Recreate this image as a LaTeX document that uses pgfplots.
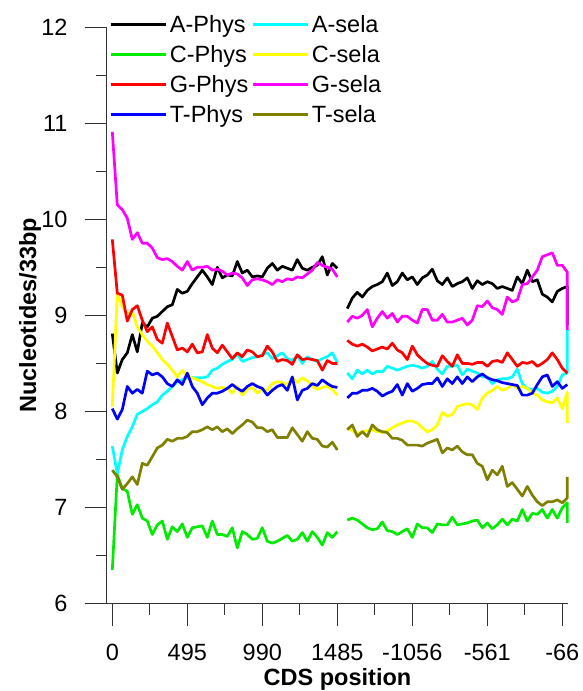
\documentclass[border=0pt]{standalone}
\usepackage{fontspec}
\setmainfont{Liberation Sans}
\usepackage{pgfplots}
\usepackage{pgfplotstable}
\pgfplotsset{compat=1.18}
\definecolor{cgreen}{RGB}{0,235,0}
\definecolor{ccyan}{RGB}{0,255,255}
\definecolor{cyell}{RGB}{255,255,0}
\definecolor{colive}{RGB}{128,128,0}
\definecolor{cmag}{RGB}{255,0,255}
\definecolor{cred}{RGB}{255,0,0}
\definecolor{cblue}{RGB}{0,0,255}

\pgfplotstableread{
i A C G T
0 8.81 6.35 9.79 8.03
1 8.40 7.34 9.23 7.92
2 8.54 7.20 9.21 8.02
3 8.61 7.17 8.94 8.26
4 8.80 6.93 9.06 8.19
5 8.62 7.03 9.10 8.23
6 8.92 6.89 8.95 8.19
7 8.88 6.86 8.83 8.42
8 8.97 6.72 8.88 8.38
9 8.99 6.82 8.75 8.40
10 9.04 6.86 8.71 8.36
11 9.09 6.67 8.92 8.29
12 9.11 6.80 8.78 8.26
13 9.27 6.75 8.64 8.33
14 9.23 6.83 8.66 8.28
15 9.25 6.69 8.62 8.40
16 9.33 6.79 8.70 8.26
17 9.40 6.80 8.61 8.19
18 9.47 6.81 8.62 8.07
19 9.40 6.69 8.80 8.14
20 9.32 6.86 8.66 8.19
21 9.50 6.72 8.61 8.19
22 9.39 6.72 8.69 8.21
23 9.42 6.70 8.62 8.24
24 9.41 6.79 8.55 8.28
25 9.56 6.58 8.61 8.24
26 9.44 6.75 8.57 8.21
27 9.47 6.72 8.64 8.26
28 9.40 6.67 8.62 8.29
29 9.41 6.68 8.57 8.26
30 9.40 6.79 8.58 8.24
31 9.49 6.65 8.68 8.17
32 9.54 6.63 8.62 8.22
33 9.47 6.65 8.52 8.26
34 9.51 6.68 8.54 8.28
35 9.49 6.71 8.53 8.22
36 9.47 6.65 8.49 8.36
37 9.58 6.67 8.59 8.12
38 9.49 6.74 8.54 8.22
39 9.47 6.65 8.55 8.24
40 9.50 6.75 8.54 8.29
41 9.52 6.69 8.53 8.27
42 9.61 6.61 8.43 8.33
43 9.42 6.74 8.53 8.29
44 9.54 6.69 8.50 8.26
45 9.49 6.75 8.50 8.25
46 nan nan nan nan
47 9.07 6.87 8.74 8.14
48 9.18 6.89 8.70 8.19
49 9.24 6.87 8.68 8.19
50 9.19 6.83 8.70 8.22
51 9.26 6.79 8.67 8.22
52 9.30 6.77 8.63 8.24
53 9.32 6.78 8.65 8.21
54 9.35 6.85 8.67 8.16
55 9.44 6.76 8.65 8.19
56 9.31 6.75 8.71 8.21
57 9.35 6.72 8.64 8.28
58 9.44 6.75 8.61 8.17
59 9.37 6.78 8.54 8.29
60 9.40 6.69 8.68 8.21
61 9.32 6.83 8.59 8.24
62 9.39 6.79 8.54 8.28
63 9.42 6.79 8.50 8.29
64 9.48 6.74 8.48 8.29
65 9.36 6.83 8.47 8.35
66 9.32 6.82 8.58 8.26
67 9.39 6.82 8.52 8.34
68 9.30 6.90 8.47 8.29
69 9.33 6.82 8.59 8.36
70 9.35 6.83 8.50 8.29
71 9.39 6.84 8.50 8.36
72 9.28 6.86 8.49 8.31
73 9.36 6.87 8.51 8.36
74 9.32 6.79 8.51 8.39
75 9.35 6.84 8.47 8.35
76 9.33 6.78 8.52 8.33
77 9.28 6.82 8.53 8.32
78 9.30 6.88 8.51 8.30
79 9.28 6.82 8.61 8.29
80 9.26 6.88 8.54 8.28
81 9.40 6.86 8.47 8.27
82 9.33 6.98 8.51 8.17
83 9.47 6.86 8.50 8.17
84 9.35 6.94 8.52 8.19
85 9.37 6.93 8.47 8.28
86 9.22 6.98 8.50 8.36
87 9.19 6.89 8.54 8.38
88 9.14 6.98 8.61 8.26
89 9.25 6.89 8.54 8.31
90 9.28 7.00 8.45 8.24
91 9.30 7.05 8.40 8.28
91 8.90 6.84 8.40 8.28
}\phys

\pgfplotstableread{
i A C G T
0 7.64 8.05 10.91 7.39
1 7.35 9.23 10.15 7.32
2 7.60 9.09 10.10 7.19
3 7.74 9.02 10.01 7.25
4 7.84 9.04 9.79 7.32
5 7.97 8.88 9.86 7.24
6 8.00 8.80 9.75 7.46
7 8.03 8.73 9.75 7.44
8 8.07 8.68 9.70 7.53
9 8.10 8.61 9.60 7.62
10 8.17 8.54 9.58 7.65
11 8.21 8.49 9.59 7.71
12 8.26 8.43 9.56 7.69
13 8.31 8.36 9.51 7.72
14 8.33 8.43 9.47 7.72
15 8.35 8.36 9.56 7.74
16 8.35 8.35 9.47 7.79
17 8.35 8.33 9.50 7.79
18 8.35 8.31 9.50 7.81
19 8.36 8.28 9.51 7.84
20 8.43 8.26 9.47 7.81
21 8.45 8.24 9.48 7.84
22 8.49 8.25 9.46 7.79
23 8.52 8.24 9.42 7.82
24 8.54 8.19 9.44 7.77
25 8.60 8.26 9.43 7.82
26 8.52 8.17 9.39 7.86
27 8.54 8.23 9.31 7.91
28 8.56 8.25 9.37 7.89
29 8.57 8.19 9.38 7.83
30 8.59 8.23 9.37 7.83
31 8.61 8.22 9.35 7.79
32 8.55 8.29 9.32 7.81
33 8.58 8.31 9.37 7.73
34 8.61 8.30 9.35 7.73
35 8.55 8.28 9.38 7.73
36 8.53 8.35 9.37 7.83
37 8.58 8.30 9.40 7.76
38 8.50 8.35 9.39 7.69
39 8.57 8.32 9.43 7.79
40 8.54 8.26 9.47 7.72
41 8.52 8.23 9.55 7.71
42 8.55 8.25 9.52 7.64
43 8.57 8.26 9.50 7.63
44 8.61 8.23 9.48 7.68
45 8.51 8.17 9.40 7.60
46 nan nan nan nan
47 8.40 7.83 8.93 7.81
48 8.34 7.80 8.99 7.86
49 8.43 7.77 8.97 7.74
50 8.39 7.79 9.00 7.79
51 8.43 7.80 9.06 7.74
52 8.39 7.81 8.88 7.86
53 8.42 7.79 8.97 7.81
54 8.41 7.78 9.04 7.79
55 8.47 7.80 8.97 7.78
56 8.45 7.83 9.02 7.72
57 8.43 7.86 8.93 7.72
58 8.45 7.88 8.99 7.70
59 8.47 7.90 8.99 7.65
60 8.48 7.90 8.95 7.65
61 8.47 7.88 8.92 7.65
62 8.45 7.83 9.06 7.64
63 8.47 7.79 9.06 7.67
64 8.52 7.81 8.95 7.69
65 8.44 7.86 8.95 7.71
66 8.39 7.99 9.01 7.57
67 8.47 7.95 8.93 7.62
68 8.47 7.97 8.93 7.60
69 8.48 8.05 8.95 7.64
70 8.38 8.07 8.97 7.58
71 8.44 8.08 8.90 7.55
72 8.42 8.07 8.95 7.55
73 8.40 8.02 9.10 7.46
74 8.36 8.14 9.09 7.43
75 8.36 8.19 9.15 7.29
76 8.29 8.22 9.08 7.39
77 8.33 8.26 9.06 7.34
78 8.34 8.22 9.01 7.43
79 8.34 8.24 9.19 7.22
80 8.36 8.28 9.14 7.26
81 8.44 8.24 9.16 7.19
82 8.29 8.26 9.32 7.12
83 8.24 8.24 9.33 7.22
84 8.23 8.19 9.40 7.13
85 8.24 8.17 9.47 7.06
86 8.20 8.12 9.61 7.02
87 8.19 8.10 9.63 7.06
88 8.21 8.09 9.65 7.06
89 8.26 8.14 9.52 7.08
90 8.38 8.03 9.52 7.05
91 8.40 8.20 9.45 7.10
91 8.85 7.88 8.85 7.32
}\sela

\begin{document}
\begin{tikzpicture}
\useasboundingbox (-106.7pt,-87.3pt) rectangle (475.3pt,603.7pt);
\begin{axis}[
  scale only axis,
  width=461.6pt, height=576.7pt,
  xmin=-1.12, xmax=91.2,
  ymin=6, ymax=12,
  axis lines=left,
  axis line style={-, line width=0.9pt, black!80},
  tick style={line width=0.9pt, black!80},
  tick align=outside,
  major tick length=22pt,
  minor tick length=11pt,
  xtick={0,15,30,45,60,75,90},
  xticklabels={0,495,990,1485,-1056,-561,-66},
  minor xtick={7.5,22.5,37.5,52.5,67.5,82.5},
  ytick={6,7,8,9,10,11,12},
  minor ytick={6.5,7.5,8.5,9.5,10.5,11.5},
  /pgf/number format/assume math mode=true,
  tick label style={font=\fontsize{23.5}{28}\selectfont},
  xticklabel style={anchor=north, inner sep=0pt, yshift=-18pt},
  yticklabel style={anchor=east, inner sep=0pt, xshift=-17pt},
  xlabel={CDS position},
  ylabel={Nucleotides/33bp},
  every axis x label/.style={at={(axis description cs:0.5,-0.131)}, anchor=center,
    font=\fontsize{23.5}{28}\selectfont\bfseries},
  every axis y label/.style={at={(axis description cs:-0.166,0.5)}, anchor=center, rotate=90,
    font=\fontsize{23.5}{28}\selectfont\bfseries},
  unbounded coords=jump,
  clip=false,
  every axis plot/.append style={line width=2.7pt, line join=round, no marks},
  legend columns=2,
  legend cell align=left,
  legend image code/.code={\draw[#1] (0pt,0pt) -- (55pt,0pt);},
  legend style={at={(axis description cs:0.005,1.024)}, anchor=north west,
    draw=none, fill=none, inner sep=0pt,
    font=\fontsize{23.5}{28}\selectfont,
    nodes={inner sep=2pt}, column sep=1pt, row sep=7.5pt},
]
\addplot[black] table[x=i,y=A] {\phys};
\addlegendentry{A-Phys}
\addplot[ccyan] table[x=i,y=A] {\sela};
\addlegendentry{A-sela}
\addplot[cgreen] table[x=i,y=C] {\phys};
\addlegendentry{C-Phys}
\addplot[cyell] table[x=i,y=C] {\sela};
\addlegendentry{C-sela}
\addplot[cred] table[x=i,y=G] {\phys};
\addlegendentry{G-Phys}
\addplot[cmag] table[x=i,y=G] {\sela};
\addlegendentry{G-sela}
\addplot[cblue] table[x=i,y=T] {\phys};
\addlegendentry{T-Phys}
\addplot[colive] table[x=i,y=T] {\sela};
\addlegendentry{T-sela}
\end{axis}
\end{tikzpicture}
\end{document}
